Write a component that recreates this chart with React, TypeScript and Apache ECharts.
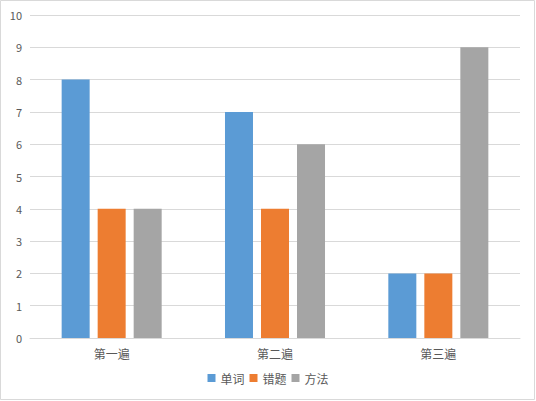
import React, { useEffect, useRef } from "react";
import * as echarts from "echarts";

const categories = ["第一遍", "第二遍", "第三遍"];
const seriesNames = ["单词", "错题", "方法"];
const wordValues = [8, 7, 2];
const mistakeValues = [4, 4, 2];
const methodValues = [4, 6, 9];
const colors = ["#5B9BD5", "#ED7D31", "#A5A5A5"];

export default function App() {
  const ref = useRef<HTMLDivElement>(null);
  useEffect(() => {
    document.body.style.margin = "0";
    const chart = echarts.init(ref.current!, undefined, { renderer: "svg" });
    const font = "'Noto Sans CJK SC', 'Microsoft YaHei', sans-serif";
    const values = [wordValues, mistakeValues, methodValues];
    chart.setOption({
      animation: false,
      backgroundColor: "#ffffff",
      textStyle: { fontFamily: font },
      graphic: [
        {
          type: "rect",
          shape: { x: 0.5, y: 0.5, width: 534, height: 399 },
          style: { fill: "none", stroke: "#d9d9d9", lineWidth: 1 },
          silent: true,
        },
      ],
      grid: { left: 30, right: 16, top: 15, bottom: 63 },
      legend: {
        bottom: 12,
        left: "center",
        itemWidth: 8,
        itemHeight: 8,
        itemGap: 5,
        icon: "rect",
        textStyle: { fontSize: 12, color: "#595959", fontFamily: font },
        data: seriesNames,
      },
      xAxis: {
        type: "category",
        data: categories,
        axisLine: { lineStyle: { color: "#d9d9d9" } },
        axisTick: { show: false },
        axisLabel: { color: "#595959", fontSize: 12, margin: 9, fontFamily: font },
      },
      yAxis: {
        type: "value",
        min: 0,
        max: 10,
        interval: 1,
        axisLine: { show: false },
        axisTick: { show: false },
        axisLabel: { color: "#595959", fontSize: 11, margin: 8, fontFamily: font },
        splitLine: { lineStyle: { color: "#d9d9d9" } },
      },
      series: seriesNames.map((name, i) => ({
        name,
        type: "bar",
        data: values[i],
        barWidth: 28,
        barGap: "28.6%",
        itemStyle: { color: colors[i] },
      })),
    });
    return () => chart.dispose();
  }, []);
  return <div ref={ref} style={{ position: "fixed", left: 0, top: 0, width: 536, height: 401 }} />;
}
